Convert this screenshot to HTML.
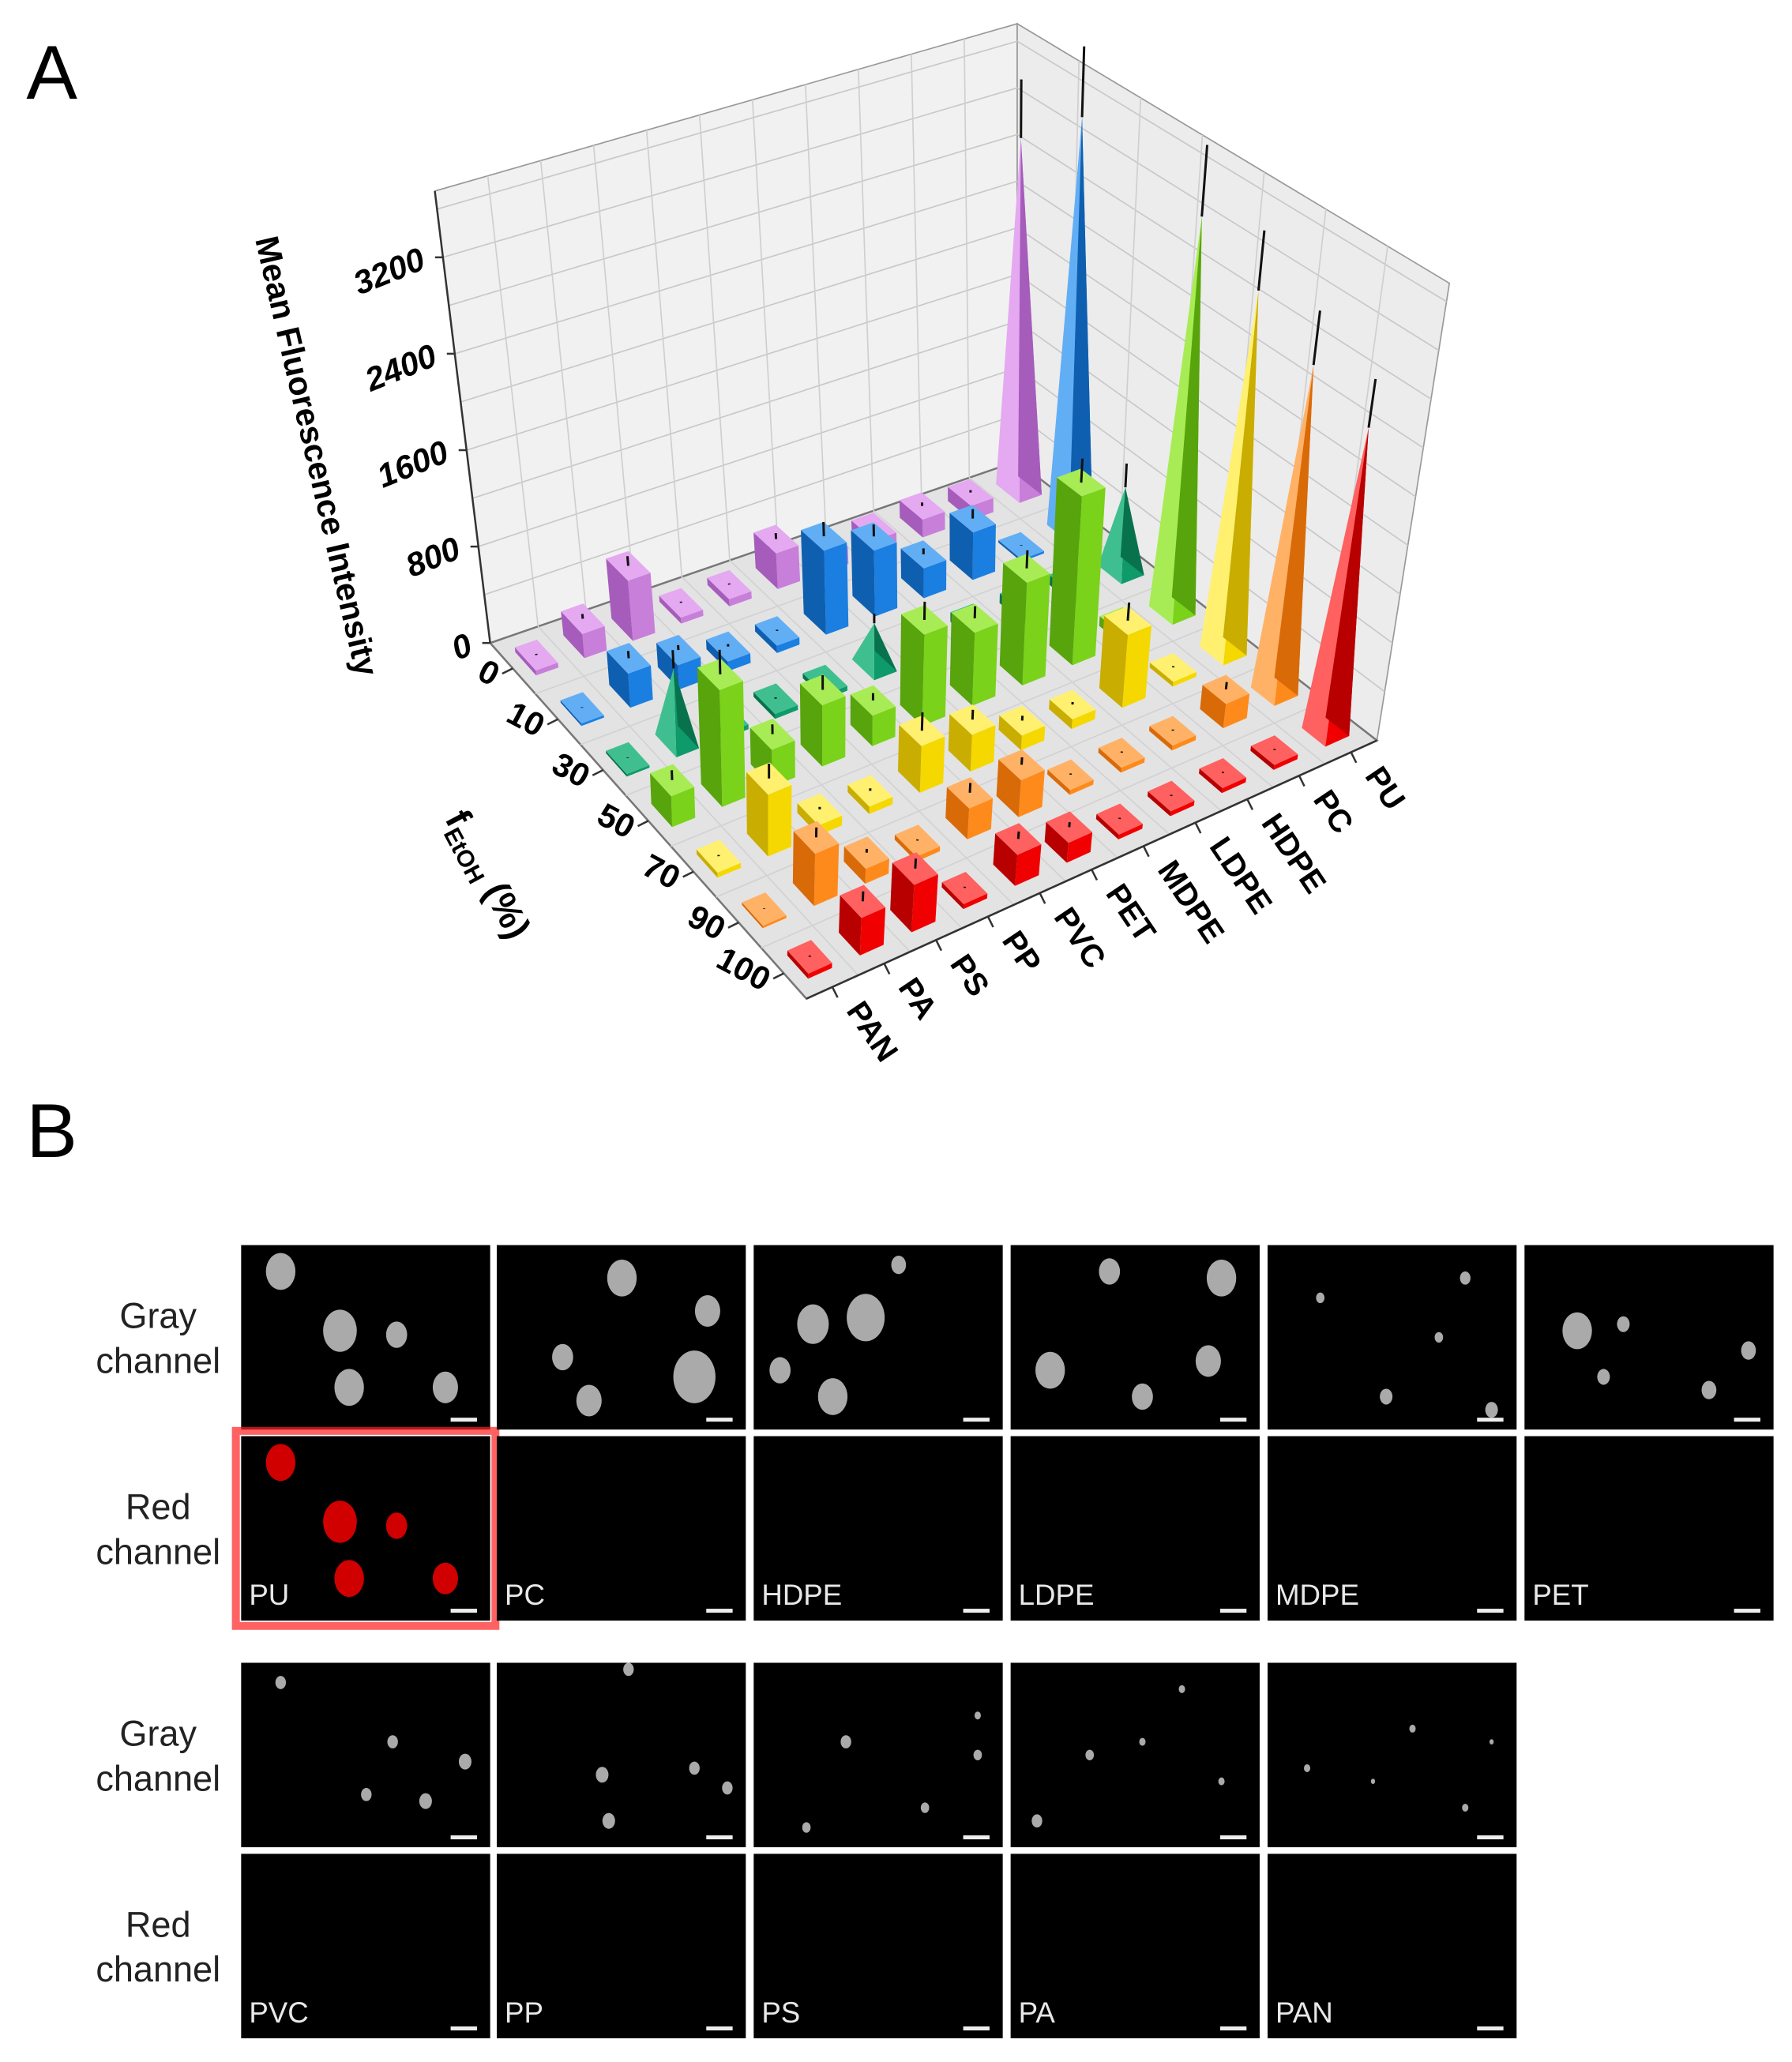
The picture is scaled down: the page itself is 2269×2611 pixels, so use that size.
<!DOCTYPE html>
<html><head><meta charset="utf-8"><style>
html,body{margin:0;padding:0;background:#fff;}
svg{display:block;}
text{font-family:"Liberation Sans",sans-serif;}
</style></head>
<body>
<svg id="fig" width="2269" height="2611" viewBox="0 0 1360 1565" xmlns="http://www.w3.org/2000/svg">
<rect width="1360" height="1565" fill="#fff"/>
<text x="20" y="75" font-size="58">A</text>
<text x="20" y="878" font-size="58">B</text>
<g id="chart"></g>
<g id="micro"></g>
</svg>
<script>
const polymers = ["PAN","PA","PS","PP","PVC","PET","MDPE","LDPE","HDPE","PC","PU"];
const fEtOH = ["0","10","30","50","70","90","100"];
const zTicks = [0,800,1600,2400,3200];
const r0   = [40,200,500,50,60,300,150,120,150,120,3000];
const r10  = [20,280,200,80,60,700,550,250,400,20,3500];
const r30  = [20,600,40,40,40,350,80,80,80,80,700];
const r50  = [250,950,300,500,250,750,600,850,1400,80,3300];
const r70  = [40,500,80,60,380,300,120,80,600,40,3000];
const r90  = [20,420,120,40,250,300,40,40,40,200,2700];
const r100 = [40,300,380,40,250,160,40,40,40,40,2500];
const e0   = [10,40,80,10,10,50,30,20,30,20,500];
const e10  = [5,60,40,20,10,120,100,50,80,5,600];
const e30  = [5,150,10,10,10,80,20,20,20,20,200];
const e50  = [80,200,80,120,60,150,100,150,200,20,600];
const e70  = [10,120,20,20,150,80,40,20,150,10,500];
const e90  = [5,80,30,10,80,60,10,10,10,60,450];
const e100 = [10,80,80,10,60,40,10,10,10,10,400];
const rows=[r0,r10,r30,r50,r70,r90,r100];
const errs=[e0,e10,e30,e50,e70,e90,e100];
const colors=[["#e4a9f0","#c77fd9","#a55cbb"],["#62aef5","#1a7fe0","#0f5fb0"],["#3fbf8f","#0e9a6a","#08724d"],["#a8ec55","#7ad21a","#58a40c"],["#fff070","#f5d800","#c9ad00"],["#ffb266","#ff8a1c","#d96a08"],["#ff6060","#f00000","#b80000"]];
const NS="http://www.w3.org/2000/svg";
const zmax=3750;
const B0=[372,488],B1=[772,350],F1=[1045,562],F0=[612,758];
const oB0=[-42,-343],oB1=[0,-332],oF1=[55,-347],oF0=[13,-358];
function bil(a,b,c,d,u,v){
  return [0,1].map(k=>(1-u)*(1-v)*a[k]+u*(1-v)*b[k]+u*v*c[k]+(1-u)*v*d[k]);}
function P(u,v,z){const f=bil(B0,B1,F1,F0,u,v),o=bil(oB0,oB1,oF1,oF0,u,v);const t=z/zmax;return [f[0]+o[0]*t,f[1]+o[1]*t];}
function pts(a){return a.map(p=>p[0].toFixed(1)+","+p[1].toFixed(1)).join(" ");}
const chart=document.getElementById('chart');
function el(tag,attrs,parent){const e=document.createElementNS(NS,tag);for(const k in attrs)e.setAttribute(k,attrs[k]);(parent||chart).appendChild(e);return e;}
const wall=el('g',{});


el('polygon',{points:pts([P(0,0,0),P(1,0,0),P(1,0,zmax),P(0,0,zmax)]),fill:"#f1f1f1",stroke:"#999","stroke-width":1},wall);
el('polygon',{points:pts([P(1,0,0),P(1,1,0),P(1,1,zmax),P(1,0,zmax)]),fill:"#ececec",stroke:"#999","stroke-width":1},wall);
el('polygon',{points:pts([P(0,0,0),P(1,0,0),P(1,1,0),P(0,1,0)]),fill:"#e3e3e3",stroke:"#777","stroke-width":1.5},wall);
for(let z=400;z<zmax;z+=400){
  el('polyline',{points:pts([P(0,0,z),P(1,0,z),P(1,1,z)]),fill:"none",stroke:"#c8c8c8","stroke-width":1},wall);}
for(let i=1;i<11;i++){const u=i/11;
  el('line',{x1:P(u,0,0)[0],y1:P(u,0,0)[1],x2:P(u,0,zmax)[0],y2:P(u,0,zmax)[1],stroke:"#cfcfcf","stroke-width":1},wall);
  el('line',{x1:P(u,0,0)[0],y1:P(u,0,0)[1],x2:P(u,1,0)[0],y2:P(u,1,0)[1],stroke:"#d2d2d2","stroke-width":1},wall);}
for(let j=1;j<7;j++){const v=j/7;
  el('line',{x1:P(1,v,0)[0],y1:P(1,v,0)[1],x2:P(1,v,zmax)[0],y2:P(1,v,zmax)[1],stroke:"#cfcfcf","stroke-width":1},wall);
  el('line',{x1:P(0,v,0)[0],y1:P(0,v,0)[1],x2:P(1,v,0)[0],y2:P(1,v,0)[1],stroke:"#d2d2d2","stroke-width":1},wall);}
const za=el('line',{x1:P(0,0,0)[0],y1:P(0,0,0)[1],x2:P(0,0,zmax)[0],y2:P(0,0,zmax)[1],stroke:"#333","stroke-width":1.5});


zTicks.forEach(z=>{const p=P(0,0,z);
  const t=el('text',{x:p[0]-12,y:p[1]+8,"font-size":25,"font-weight":"bold","font-style":"italic","text-anchor":"end",transform:`rotate(-22 ${p[0]-12} ${p[1]+8})`});
  t.textContent=z;
  
  
  el('line',{x1:p[0]-6,y1:p[1],x2:p[0],y2:p[1],stroke:"#333","stroke-width":1.5});});
const zt=el('text',{x:0,y:0,"font-size":25,"font-weight":"bold","text-anchor":"middle",transform:"translate(232,348) rotate(77)"});
zt.textContent="Mean Fluorescence Intensity";


fEtOH.forEach((lab,j)=>{const p=P(0,(j+0.5)/7,0);
  const t=el('text',{x:p[0]-16,y:p[1]+14,"font-size":25,"font-weight":"bold","text-anchor":"end",transform:`rotate(28 ${p[0]-16} ${p[1]+14})`});
  t.textContent=lab;
  
  
  el('line',{x1:p[0]-8,y1:p[1]+4,x2:p[0],y2:p[1],stroke:"#333","stroke-width":1.5});});
const ft=el('text',{x:0,y:0,"font-size":28,"font-weight":"bold","text-anchor":"middle",transform:"translate(362,668) rotate(62)"});
ft.innerHTML='f<tspan font-size="18" dy="6">EtOH</tspan><tspan dy="-6"> (%)</tspan>';


el('line',{x1:F0[0],y1:F0[1],x2:F1[0],y2:F1[1],stroke:"#333","stroke-width":1.5});
polymers.forEach((lab,i)=>{const p=P((i+0.5)/11,1,0);
  const t=el('text',{x:p[0]+10,y:p[1]+18,"font-size":24,"font-weight":"bold",transform:`rotate(56 ${p[0]+10} ${p[1]+18})`});
  t.textContent=lab;
  
  
  el('line',{x1:p[0],y1:p[1],x2:p[0]+4,y2:p[1]+8,stroke:"#333","stroke-width":1.5});});
const items=[];
rows.forEach((r,j)=>r.forEach((val,i)=>items.push({i,j,val,err:errs[j][i]})));
items.sort((a,b)=>((a.j/7-a.i/11)-(b.j/7-b.i/11)));
items.forEach(b=>{
  const uc=(b.i+0.5)/11,vc=(b.j+0.5)/7,du=0.23/11,dv=0.23/7,z=b.val,c=colors[b.j];
  const g=el('g',{});
  
  
  const spike=(b.i===10)||(b.j===2&&(b.i===1||b.i===5));
  if(spike){
    const ap=P(uc,vc,z);
    el('polygon',{points:pts([P(uc-du,vc+dv,0),P(uc+du,vc+dv,0),ap]),fill:c[1]},g);
    el('polygon',{points:pts([P(uc-du,vc-dv,0),P(uc-du,vc+dv,0),ap]),fill:c[0]},g);
    el('polygon',{points:pts([P(uc+du,vc+dv,0),P(uc+du,vc-dv,0),ap]),fill:c[2]},g);
  }else{
    el('polygon',{points:pts([P(uc-du,vc+dv,0),P(uc+du,vc+dv,0),P(uc+du,vc+dv,z),P(uc-du,vc+dv,z)]),fill:c[1]},g);
    el('polygon',{points:pts([P(uc-du,vc-dv,0),P(uc-du,vc+dv,0),P(uc-du,vc+dv,z),P(uc-du,vc-dv,z)]),fill:c[2]},g);
    el('polygon',{points:pts([P(uc-du,vc-dv,z),P(uc+du,vc-dv,z),P(uc+du,vc+dv,z),P(uc-du,vc+dv,z)]),fill:c[0]},g);
  }
  const a=P(uc,vc,z),e=P(uc,vc,z+b.err);
  el('line',{x1:a[0],y1:a[1],x2:e[0],y2:e[1],stroke:"#111","stroke-width":1.8},g);
});
const micro=document.getElementById('micro');
const colX=[183,377,572,767,962,1157],W=189,H=140;
const topLabels=["PU","PC","HDPE","LDPE","MDPE","PET"],botLabels=["PVC","PP","PS","PA","PAN"];
const rowY=[945,1090,1262,1407];
const blobs=[[[30,20,14],[75,65,16],[118,68,10],[82,108,14],[155,108,12]],[[95,25,14],[160,50,12],[50,85,10],[150,100,20],[70,118,12]],[[110,15,7],[45,60,15],[85,55,18],[20,95,10],[60,115,14]],[[75,20,10],[160,25,14],[30,95,14],[150,88,12],[100,115,10]],[[40,40,4],[90,115,6],[130,70,4],[150,25,5],[170,125,6]],[[40,65,14],[75,60,6],[170,80,7],[60,100,6],[140,110,7]],[[30,15,5],[115,60,5],[95,100,5],[140,105,6],[170,75,6]],[[100,5,5],[80,85,6],[150,80,5],[85,120,6],[175,95,5]],[[70,60,5],[170,70,4],[130,110,4],[40,125,4],[170,40,3]],[[20,120,5],[60,70,4],[100,60,3],[160,90,3],[130,20,3]],[[30,80,3],[110,50,3],[150,110,3],[80,90,2],[170,60,2]]];
function lbl(x,y,t,name){const e=el('text',{x,y,"font-size":27,"text-anchor":"middle",fill:"#222"},micro);e.textContent=t;}
[0,2].forEach(r=>{lbl(120,rowY[r]+63,"Gray","gray-channel-label");lbl(120,rowY[r]+97,"channel","gray-channel-label");
  lbl(120,rowY[r+1]+63,"Red","red-channel-label");lbl(120,rowY[r+1]+97,"channel","red-channel-label");});
function panel(x,y,label,bl,red,idx){
  const g=el('g',{},micro);
  
  
  if(red&&label==="PU")el('rect',{x:x-4,y:y-4,width:W+8,height:H+8,fill:"none",stroke:"#ff2020","stroke-width":6,opacity:0.7},g);
  el('rect',{x,y,width:W,height:H,fill:"#000"},g);
  if(bl&&(!red||label==="PU"))bl.forEach(b=>{el('ellipse',{cx:x+b[0],cy:y+b[1],rx:b[2]*0.8,ry:b[2],fill:red?"#e80000":"#bdbdbd",opacity:0.9},g);});
  el('rect',{x:x+W-30,y:y+H-9,width:20,height:3,fill:"#eee"},g);
  if(label){const t=el('text',{x:x+6,y:y+H-12,"font-size":22,fill:"#e8e8e8"},g);t.textContent=label;}
}
for(let c=0;c<6;c++){panel(colX[c],rowY[0],null,blobs[c],false,c);panel(colX[c],rowY[1],topLabels[c],blobs[c],true,c);}
for(let c=0;c<5;c++){panel(colX[c],rowY[2],null,blobs[c+6],false,c+6);panel(colX[c],rowY[3],botLabels[c],null,true,c+6);}
</script>
</body></html>
